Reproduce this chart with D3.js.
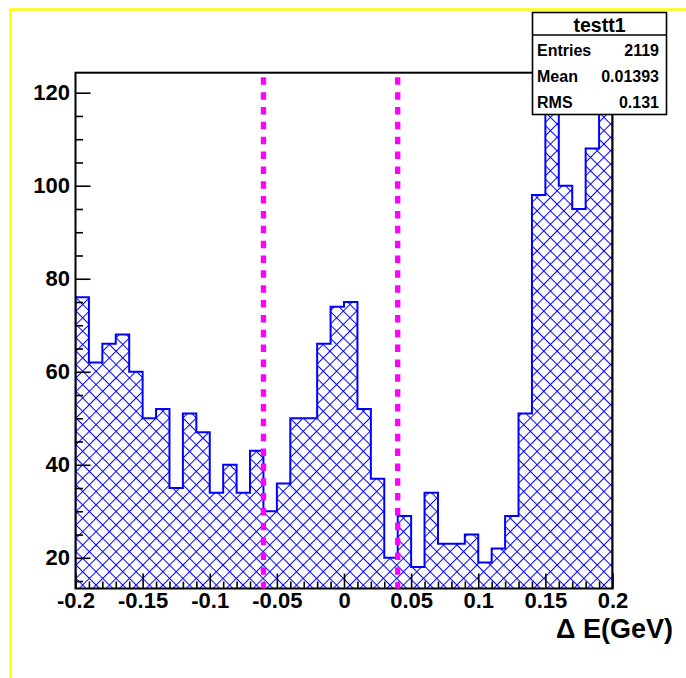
<!DOCTYPE html>
<meta charset="utf-8">
<head>
  <title>testt1 delta E</title>
  <style>
    body { margin: 0; background: #fff; }
    text { font-family: "Liberation Sans", Helvetica, Arial, sans-serif; font-weight: bold; }
  </style>
</head>
<body>
<script src="https://d3js.org/d3.v7.min.js"></script>
<script>

// histogram testt1: 40 bins of 0.01 GeV from -0.2 to 0.2
const binLow = -0.2, binWidth = 0.01;
const counts = [
  76, 62, 66, 68, 60, 50, 52, 35, 51, 47,
  34, 40, 34, 43, 30, 36, 50, 50, 66, 74,
  75, 52, 37, 20, 29, 18, 34, 23, 23, 25,
  19, 22, 29, 51, 98, 119, 100, 95, 108, 116
];

// the two cut lines
const cuts = [-0.06, 0.04];

const xTicks = [-0.2, -0.15, -0.1, -0.05, 0, 0.05, 0.1, 0.15, 0.2];
const xTickLabels = ["-0.2", "-0.15", "-0.1", "-0.05", "0", "0.05", "0.1", "0.15", "0.2"];
const yTicks = [20, 40, 60, 80, 100, 120];
const yTickLabels = ["20", "40", "60", "80", "100", "120"];

const statsTitle = "testt1";
const statsNames = ["Entries", "Mean", "RMS"];
const statsValues = ["2119", "0.01393", "0.131"];

const W = 686, H = 678;
const frame = {left: 75.5, right: 612.5, top: 72.7, bottom: 588.5};

const svg = d3.select("body").append("svg")
    .attr("width", W)
    .attr("height", H);

// canvas border
svg.append("rect")
    .attr("x", 10.5).attr("y", 9.5)
    .attr("width", 700).attr("height", 700)
    .style("fill", "none")
    .style("stroke", "#ffff00")
    .style("stroke-width", 2.5);

const x = d3.scaleLinear().domain([-0.2, 0.2]).range([frame.left, frame.right]);
const y = d3.scaleLinear().domain([13.4, 124.3]).range([frame.bottom, frame.top]);

// cross hatch
const defs = svg.append("defs");
const pat = defs.append("pattern")
    .attr("id", "hatch")
    .attr("patternUnits", "userSpaceOnUse")
    .attr("width", 9.45).attr("height", 9.45)
    .attr("patternTransform", "translate(76,3) rotate(45)");
pat.append("rect").attr("x", 0).attr("y", 0).attr("width", 1).attr("height", 9.45).style("fill", "#0000ff");
pat.append("rect").attr("x", 0).attr("y", 0).attr("width", 9.45).attr("height", 1).style("fill", "#0000ff");

defs.append("clipPath").attr("id", "frameClip")
  .append("rect")
    .attr("x", frame.left).attr("y", frame.top)
    .attr("width", frame.right - frame.left)
    .attr("height", frame.bottom - frame.top);

// outline points of the histogram
const pts = [[x(binLow), y.range()[0]]];
counts.forEach((c, i) => {
  pts.push([x(binLow + i * binWidth), y(c)]);
  pts.push([x(binLow + (i + 1) * binWidth), y(c)]);
});
pts.push([x(binLow + counts.length * binWidth), y.range()[0]]);

const plot = svg.append("g").attr("clip-path", "url(#frameClip)");

plot.append("path")
    .attr("d", d3.line()(pts) + "Z")
    .style("fill", "url(#hatch)")
    .style("stroke", "none");

plot.append("path")
    .attr("d", d3.line()(pts))
    .style("fill", "none")
    .style("stroke", "#0000ff")
    .style("stroke-width", 2)
    .style("stroke-linejoin", "miter");

// axes (ticks drawn inward)
const fmtX = v => xTickLabels[xTicks.indexOf(v)];
const fmtY = v => yTickLabels[yTicks.indexOf(v)];

const minorX = d3.range(41).map(i => -0.2 + i * 0.01).filter(v => Math.abs((v * 100) % 5) > 0.01 && Math.abs((v * 100) % 5) < 4.99);
const minorY = d3.range(15, 125, 5).filter(v => v % 20 !== 0);

function styleAxis(g, size) {
  g.select(".domain").remove();
  g.selectAll(".tick line").style("stroke", "#000").style("stroke-width", 1.6);
  g.selectAll(".tick text").style("fill", "#000").style("font-size", size + "px")
    .style("font-family", "'Liberation Sans', Helvetica, Arial, sans-serif");
}

svg.append("g")
    .attr("transform", "translate(0," + frame.bottom + ")")
    .call(d3.axisBottom(x).tickValues(minorX).tickSize(-7).tickFormat(""))
    .call(g => styleAxis(g, 22));

svg.append("g")
    .attr("transform", "translate(0," + frame.bottom + ")")
    .call(d3.axisBottom(x).tickValues(xTicks).tickSize(-15).tickSizeOuter(0).tickPadding(4).tickFormat(fmtX))
    .call(g => styleAxis(g, 22));

svg.append("g")
    .attr("transform", "translate(" + frame.left + ",0)")
    .call(d3.axisLeft(y).tickValues(minorY).tickSize(-7.5).tickFormat(""))
    .call(g => styleAxis(g, 22));

svg.append("g")
    .attr("transform", "translate(" + frame.left + ",0)")
    .call(d3.axisLeft(y).tickValues(yTicks).tickSize(-15).tickSizeOuter(0).tickPadding(5.5).tickFormat(fmtY))
    .call(g => styleAxis(g, 22));

// frame
svg.append("rect")
    .attr("x", frame.left).attr("y", frame.top)
    .attr("width", frame.right - frame.left)
    .attr("height", frame.bottom - frame.top)
    .style("fill", "none")
    .style("stroke", "#000")
    .style("stroke-width", 2);

// cut lines
svg.selectAll(".cut")
  .data(cuts)
  .enter().append("line")
    .attr("class", "cut")
    .attr("x1", d => x(d)).attr("x2", d => x(d))
    .attr("y1", y.range()[1]).attr("y2", y.range()[0])
    .style("stroke", "#ff00ff")
    .style("stroke-width", 5.3)
    .style("stroke-dasharray", "7.5 7.35")
    .style("stroke-dashoffset", 10.25);

// axis title
svg.append("text")
    .attr("x", 673).attr("y", 638)
    .attr("text-anchor", "end")
    .style("font-size", "27px")
    .text("\u0394 E(GeV)");

// stats box
const box = {x: 532.5, y: 12.5, w: 134, h: 102, sep: 35};
const stats = svg.append("g");
stats.append("rect")
    .attr("x", box.x).attr("y", box.y)
    .attr("width", box.w).attr("height", box.h)
    .style("fill", "#fff")
    .style("stroke", "#000")
    .style("stroke-width", 1.6);
stats.append("line")
    .attr("x1", box.x).attr("x2", box.x + box.w)
    .attr("y1", box.sep).attr("y2", box.sep)
    .style("stroke", "#000")
    .style("stroke-width", 1.6);
stats.append("text")
    .attr("x", box.x + box.w / 2).attr("y", 31.5)
    .attr("text-anchor", "middle")
    .style("font-size", "19.5px")
    .text(statsTitle);
statsNames.forEach((n, i) => {
  stats.append("text")
      .attr("x", 537).attr("y", 56 + i * 26)
      .style("font-size", "16px")
      .text(n);
  stats.append("text")
      .attr("x", 659).attr("y", 56 + i * 26)
      .attr("text-anchor", "end")
      .style("font-size", "16px")
      .text(statsValues[i]);
});

</script>
</body>
</html>
